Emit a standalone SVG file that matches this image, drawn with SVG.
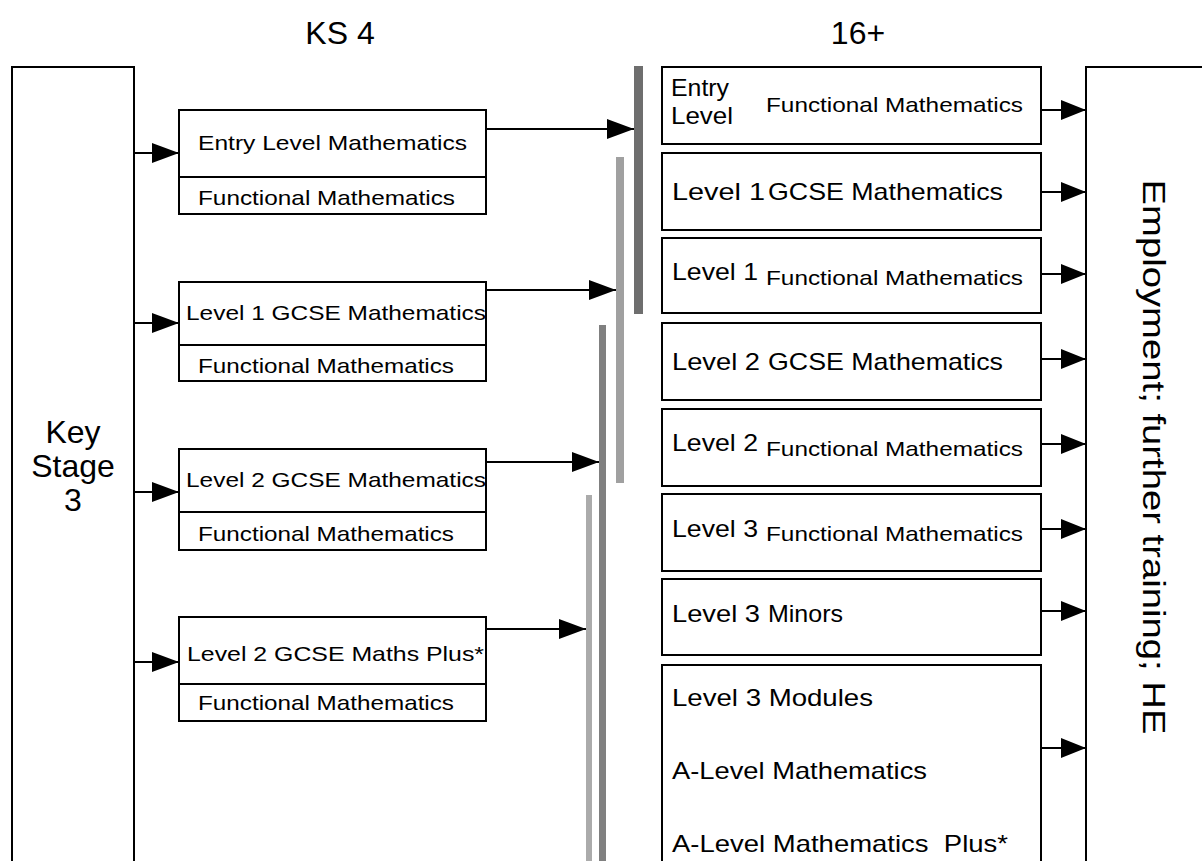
<svg xmlns="http://www.w3.org/2000/svg" width="1202" height="861" viewBox="0 0 1202 861">
<style>
text{font-family:"Liberation Sans",Arial,sans-serif;fill:#000}
.box{fill:#fff;stroke:#000;stroke-width:2}
.con{stroke:#000;stroke-width:2;fill:none}
.s{font-size:21px}
.m{font-size:24px}
.big{font-size:32px}
</style>
<defs>
<marker id="ah" markerUnits="userSpaceOnUse" markerWidth="28" markerHeight="22" refX="27" refY="10" orient="auto">
<path d="M0,0 L27,10 L0,20 Z" fill="#000"/>
</marker>
<marker id="ah2" markerUnits="userSpaceOnUse" markerWidth="26" markerHeight="22" refX="25" refY="10" orient="auto">
<path d="M0,0 L25,10 L0,20 Z" fill="#000"/>
</marker>
</defs>
<rect width="1202" height="861" fill="#fff"/>

<g id="titles">
<text x="340" y="44" class="big" text-anchor="middle">KS 4</text>
<text x="858" y="44" class="big" text-anchor="middle">16+</text>
</g>

<g id="ks3">
<rect class="box" x="12" y="67" width="122" height="900"/>
<text x="73" y="443" class="big" text-anchor="middle">Key</text>
<text x="73" y="477" class="big" text-anchor="middle">Stage</text>
<text x="73" y="511" class="big" text-anchor="middle">3</text>
</g>

<g id="ks4-entry">
<rect class="box" x="179" y="110" width="307" height="104"/>
<line class="con" x1="179" y1="177" x2="486" y2="177"/>
<text x="198" y="150" class="s" textLength="269" lengthAdjust="spacingAndGlyphs">Entry Level Mathematics</text>
<text x="198" y="205" class="s" textLength="257" lengthAdjust="spacingAndGlyphs">Functional Mathematics</text>
</g>
<g id="ks4-l1">
<rect class="box" x="179" y="282" width="307" height="99"/>
<line class="con" x1="179" y1="345" x2="486" y2="345"/>
<text x="186" y="320" class="s" textLength="300" lengthAdjust="spacingAndGlyphs">Level 1 GCSE Mathematics</text>
<text x="198" y="373" class="s" textLength="256" lengthAdjust="spacingAndGlyphs">Functional Mathematics</text>
</g>
<g id="ks4-l2">
<rect class="box" x="179" y="449" width="307" height="101"/>
<line class="con" x1="179" y1="512" x2="486" y2="512"/>
<text x="186" y="487" class="s" textLength="300" lengthAdjust="spacingAndGlyphs">Level 2 GCSE Mathematics</text>
<text x="198" y="541" class="s" textLength="256" lengthAdjust="spacingAndGlyphs">Functional Mathematics</text>
</g>
<g id="ks4-plus">
<rect class="box" x="179" y="617" width="307" height="104"/>
<line class="con" x1="179" y1="684" x2="486" y2="684"/>
<text x="187" y="661" class="s" textLength="297" lengthAdjust="spacingAndGlyphs">Level 2 GCSE Maths Plus*</text>
<text x="198" y="710" class="s" textLength="256" lengthAdjust="spacingAndGlyphs">Functional Mathematics</text>
</g>

<g id="bars">
<rect x="634" y="66" width="9" height="248" fill="#6e6e6e"/>
<rect x="616" y="157" width="8" height="326" fill="#a0a0a0"/>
<rect x="599" y="325" width="7" height="540" fill="#808080"/>
<rect x="586" y="495" width="6" height="370" fill="#ababab"/>
</g>

<g id="r1">
<rect class="box" x="662" y="67" width="379" height="77"/>
<text x="671" y="96" class="m" textLength="58" lengthAdjust="spacingAndGlyphs">Entry</text>
<text x="671" y="124" class="m" textLength="62" lengthAdjust="spacingAndGlyphs">Level</text>
<text x="766" y="112" class="s" textLength="257" lengthAdjust="spacingAndGlyphs">Functional Mathematics</text>
</g>
<g id="r2">
<rect class="box" x="662" y="153" width="379" height="77"/>
<text x="672" y="200" class="m" textLength="93" lengthAdjust="spacingAndGlyphs">Level 1</text>
<text x="768" y="200" class="m" textLength="235" lengthAdjust="spacingAndGlyphs">GCSE Mathematics</text>
</g>
<g id="r3">
<rect class="box" x="662" y="238" width="379" height="75"/>
<text x="672" y="280" class="m" textLength="86" lengthAdjust="spacingAndGlyphs">Level 1</text>
<text x="766" y="285" class="s" textLength="257" lengthAdjust="spacingAndGlyphs">Functional Mathematics</text>
</g>
<g id="r4">
<rect class="box" x="662" y="323" width="379" height="77"/>
<text x="672" y="370" class="m" textLength="88" lengthAdjust="spacingAndGlyphs">Level 2</text>
<text x="768" y="370" class="m" textLength="235" lengthAdjust="spacingAndGlyphs">GCSE Mathematics</text>
</g>
<g id="r5">
<rect class="box" x="662" y="409" width="379" height="77"/>
<text x="672" y="451" class="m" textLength="86" lengthAdjust="spacingAndGlyphs">Level 2</text>
<text x="766" y="456" class="s" textLength="257" lengthAdjust="spacingAndGlyphs">Functional Mathematics</text>
</g>
<g id="r6">
<rect class="box" x="662" y="494" width="379" height="77"/>
<text x="672" y="537" class="m" textLength="86" lengthAdjust="spacingAndGlyphs">Level 3</text>
<text x="766" y="541" class="s" textLength="257" lengthAdjust="spacingAndGlyphs">Functional Mathematics</text>
</g>
<g id="r7">
<rect class="box" x="662" y="579" width="379" height="76"/>
<text x="672" y="622" class="m" textLength="88" lengthAdjust="spacingAndGlyphs">Level 3</text>
<text x="768" y="622" class="m" textLength="75" lengthAdjust="spacingAndGlyphs">Minors</text>
</g>
<g id="r8">
<rect class="box" x="662" y="665" width="379" height="220"/>
<text x="672" y="706" class="m" textLength="201" lengthAdjust="spacingAndGlyphs">Level 3 Modules</text>
<text x="672" y="779" class="m" textLength="255" lengthAdjust="spacingAndGlyphs">A-Level Mathematics</text>
<text x="672" y="852" class="m" textLength="336" lengthAdjust="spacingAndGlyphs">A-Level Mathematics&#160; Plus*</text>
</g>

<g id="employment">
<rect class="box" x="1086" y="67" width="200" height="900"/>
<text transform="translate(1143,457) rotate(90)" class="big" text-anchor="middle" textLength="555" lengthAdjust="spacingAndGlyphs">Employment; further training; HE</text>
</g>

<g id="connectors">
<line class="con" x1="134" y1="153" x2="179" y2="153" marker-end="url(#ah)"/>
<line class="con" x1="134" y1="323" x2="179" y2="323" marker-end="url(#ah)"/>
<line class="con" x1="134" y1="492" x2="179" y2="492" marker-end="url(#ah)"/>
<line class="con" x1="134" y1="662" x2="179" y2="662" marker-end="url(#ah)"/>
<line class="con" x1="486" y1="129" x2="634" y2="129" marker-end="url(#ah)"/>
<line class="con" x1="486" y1="290" x2="616" y2="290" marker-end="url(#ah)"/>
<line class="con" x1="486" y1="462" x2="599" y2="462" marker-end="url(#ah)"/>
<line class="con" x1="486" y1="629" x2="586" y2="629" marker-end="url(#ah)"/>
<line class="con" x1="1041" y1="110" x2="1086" y2="110" marker-end="url(#ah2)"/>
<line class="con" x1="1041" y1="192" x2="1086" y2="192" marker-end="url(#ah2)"/>
<line class="con" x1="1041" y1="274" x2="1086" y2="274" marker-end="url(#ah2)"/>
<line class="con" x1="1041" y1="359" x2="1086" y2="359" marker-end="url(#ah2)"/>
<line class="con" x1="1041" y1="444" x2="1086" y2="444" marker-end="url(#ah2)"/>
<line class="con" x1="1041" y1="529" x2="1086" y2="529" marker-end="url(#ah2)"/>
<line class="con" x1="1041" y1="611" x2="1086" y2="611" marker-end="url(#ah2)"/>
<line class="con" x1="1041" y1="748" x2="1086" y2="748" marker-end="url(#ah2)"/>
</g>
</svg>
